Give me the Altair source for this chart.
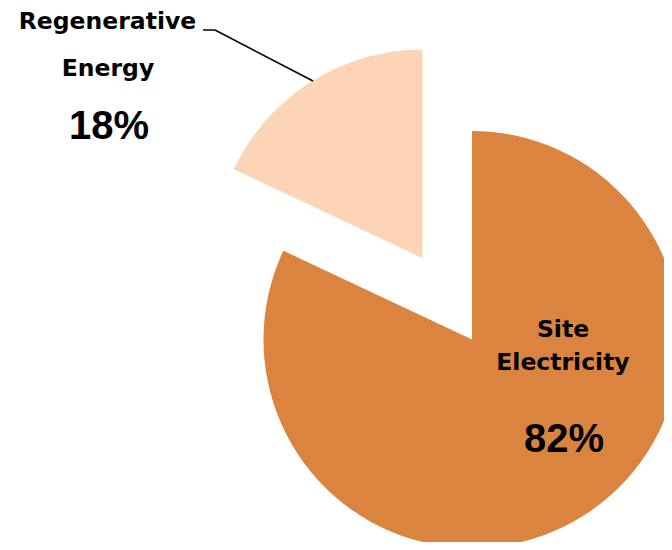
import math
import altair as alt
import pandas as pd

categories = ["Site Electricity", "Regenerative Energy"]
values = [82, 18]
colors = ["#DB843F", "#FBD5B5"]

starts, ends, acc = [], [], 0
for v in values:
    starts.append(acc)
    acc += v
    ends.append(acc)
df = pd.DataFrame({"category": categories, "value": values, "start": starts, "end": ends,
                   "pct": [f"{v}%" for v in values]})

R = 208.5
FONT = "DejaVu Sans"
PFONT = "Liberation Sans"
theta_scale = alt.Scale(domain=[0, 100], range=[0, 2 * math.pi])
color_scale = alt.Scale(domain=categories, range=colors)
base = alt.Chart(df)


def slice_layer(cat, cx, cy):
    return base.transform_filter(alt.datum.category == cat).mark_arc(radius=R).encode(
        theta=alt.Theta("start:Q", stack=None, scale=theta_scale),
        theta2="end:Q",
        color=alt.Color("category:N", scale=color_scale, legend=None),
        x=alt.value(cx), y=alt.value(cy),
    )


def text_layer(cat, field, x, y, size, font, lit=None):
    enc = dict(x=alt.value(x), y=alt.value(y))
    if lit is None:
        enc["text"] = alt.Text(f"{field}:N")
    else:
        enc["text"] = alt.value(lit)
    return base.transform_filter(alt.datum.category == cat).mark_text(
        font=font, fontWeight="bold", fontSize=size, color="black", baseline="alphabetic", align="center"
    ).encode(**enc)


big = slice_layer("Site Electricity", 464, 331.5)
small = slice_layer("Regenerative Energy", 414.5, 250)

leader1 = base.transform_filter(alt.datum.category == "Regenerative Energy").mark_rule(color="black", strokeWidth=1.5).encode(
    x=alt.value(195), y=alt.value(22), x2=alt.value(207), y2=alt.value(22))
leader2 = base.transform_filter(alt.datum.category == "Regenerative Energy").mark_rule(color="black", strokeWidth=1.5).encode(
    x=alt.value(207), y=alt.value(22), x2=alt.value(305), y2=alt.value(73))

texts = [
    text_layer("Regenerative Energy", None, 99.5, 21, 23.5, FONT, "Regenerative"),
    text_layer("Regenerative Energy", None, 100, 68, 23.5, FONT, "Energy"),
    text_layer("Regenerative Energy", "pct", 101, 131, 40, PFONT),
    text_layer("Site Electricity", None, 555, 329, 23.5, FONT, "Site"),
    text_layer("Site Electricity", None, 555, 362, 23.5, FONT, "Electricity"),
    text_layer("Site Electricity", "pct", 556, 444, 40, PFONT),
]

chart = alt.layer(big, small, leader1, leader2, *texts).properties(
    width=656, height=534, padding=0, autosize=alt.AutoSizeParams(type="none")
).configure_view(stroke=None)

chart.save("out.html", embed_options={"renderer": "svg", "actions": False})
